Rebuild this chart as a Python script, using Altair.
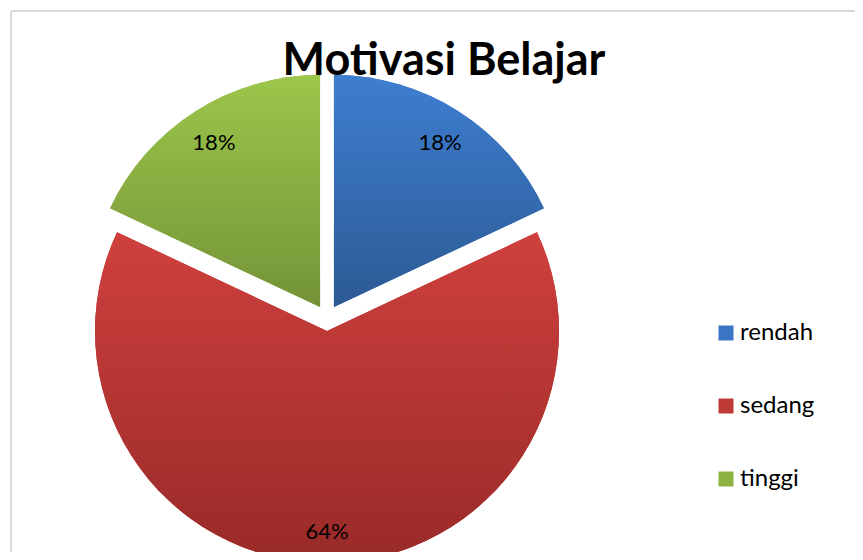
import altair as alt
import pandas as pd

# ---- data ----
TITLE = "Motivasi Belajar"
CATEGORIES = ["rendah", "sedang", "tinggi"]
VALUES = [18, 64, 18]          # percent shares
ORDER = [1, 2, 3]

# ---- styling / layout constants ----
SOLID = ["#3a74c2", "#c03a37", "#8db243"]
GRAD_TOP = ["#3e7ed0", "#cf403d", "#9dc64b"]
GRAD_BOT = ["#2c5a93", "#982a28", "#739337"]
CX, CY = 319, 310      # pie centre in plot pixels
RADIUS = 232
EXPLODE = 13           # slice explosion distance
LABEL_R = 211          # label distance from pie centre
FONT = "Lato"

df = pd.DataFrame({"kategori": CATEGORIES, "nilai": VALUES, "urut": ORDER})


def grad(top, bot):
    return {
        "gradient": "linear",
        "x1": 0, "y1": 0, "x2": 0, "y2": 1,
        "stops": [{"offset": 0, "color": top}, {"offset": 1, "color": bot}],
    }


base = (
    alt.Chart(df)
    .transform_joinaggregate(total="sum(nilai)")
    .transform_window(cum="sum(nilai)", sort=[alt.SortField("urut")], frame=[None, 0])
    .transform_calculate(
        a1="2*PI*datum.cum/datum.total",
        a0="2*PI*(datum.cum-datum.nilai)/datum.total",
    )
    .transform_calculate(mid="(datum.a0+datum.a1)/2", pct="datum.nilai/datum.total")
    .transform_calculate(
        cx=f"{CX}+{EXPLODE}*sin(datum.mid)",
        cy=f"{CY}-{EXPLODE}*cos(datum.mid)",
        lx=f"{CX}+{LABEL_R}*sin(datum.mid)",
        ly=f"{CY}-{LABEL_R}*cos(datum.mid)",
    )
)

arc_enc = dict(
    theta=alt.Theta("a0:Q", scale=None, stack=None),
    theta2="a1:Q",
    x=alt.X("cx:Q", scale=None),
    y=alt.Y("cy:Q", scale=None),
)

solid = base.mark_arc(radius=RADIUS).encode(
    color=alt.Color(
        "kategori:N",
        scale=alt.Scale(domain=CATEGORIES, range=SOLID),
        legend=alt.Legend(
            title=None,
            orient="none",
            legendX=706,
            legendY=313,
            symbolType="square",
            symbolSize=225,
            symbolStrokeWidth=0,
            labelFont=FONT,
            labelFontSize=24,
            labelColor="#000000",
            labelOffset=2,
            rowPadding=49,
            padding=0,
        ),
    ),
    **arc_enc,
)

fill_rule = (
    alt.when(alt.datum.kategori == CATEGORIES[0])
    .then(alt.value(grad(GRAD_TOP[0], GRAD_BOT[0])))
    .when(alt.datum.kategori == CATEGORIES[1])
    .then(alt.value(grad(GRAD_TOP[1], GRAD_BOT[1])))
    .otherwise(alt.value(grad(GRAD_TOP[2], GRAD_BOT[2])))
)

gradient = base.mark_arc(radius=RADIUS).encode(fill=fill_rule, **arc_enc)

labels = base.mark_text(
    font=FONT, fontSize=22, color="#000000", baseline="middle", align="center", dy=3
).encode(
    x=alt.X("lx:Q", scale=None),
    y=alt.Y("ly:Q", scale=None),
    text=alt.Text("pct:Q", format=".0%"),
)

title = (
    alt.Chart(pd.DataFrame({"judul": [TITLE]}))
    .mark_text(font=FONT, fontSize=45, fontWeight="bold", color="#000000",
               align="center", baseline="alphabetic")
    .encode(text="judul:N", x=alt.value(436), y=alt.value(67))
)

frame_df = pd.DataFrame({"k": [0]})
top_rule = alt.Chart(frame_df).mark_rule(color="#d9d9d9", strokeWidth=2).encode(
    x=alt.value(3), x2=alt.value(847), y=alt.value(3)
)
left_rule = alt.Chart(frame_df).mark_rule(color="#d9d9d9", strokeWidth=2).encode(
    x=alt.value(3), y=alt.value(3), y2=alt.value(544)
)

chart = (
    alt.layer(top_rule, left_rule, solid, gradient, labels, title)
    .properties(width=847, height=544, padding=0, autosize="none", background="white")
    .configure_view(stroke=None)
)

chart.save("out.html", embed_options={"renderer": "svg", "actions": False})
